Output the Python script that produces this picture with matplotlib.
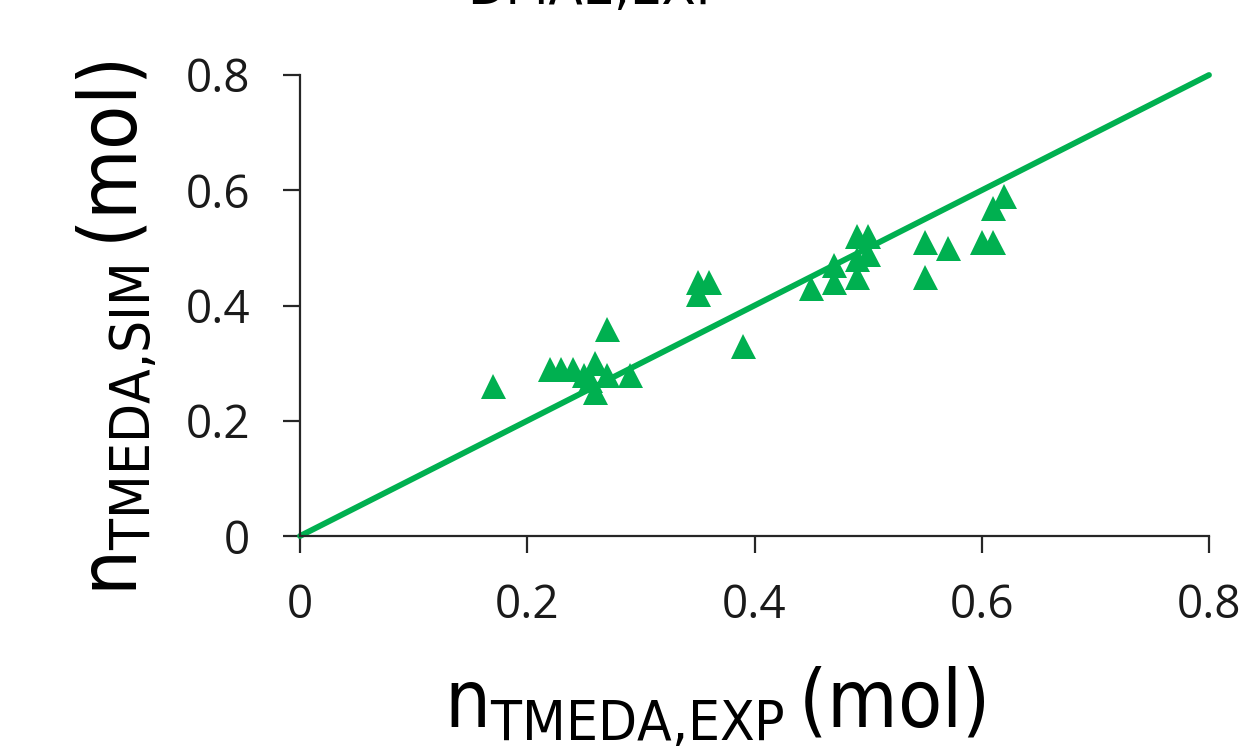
import matplotlib
matplotlib.use("Agg")
import matplotlib.pyplot as plt
from matplotlib import font_manager

# measured vs simulated amount of TMEDA
n_exp = [0.17, 0.22, 0.23, 0.24, 0.25, 0.255, 0.26, 0.26, 0.27, 0.27, 0.29,
         0.35, 0.35, 0.36, 0.39, 0.45, 0.47, 0.47, 0.49, 0.49, 0.49, 0.50,
         0.50, 0.55, 0.55, 0.57, 0.60, 0.61, 0.61, 0.62]
n_sim = [0.26, 0.29, 0.29, 0.29, 0.28, 0.27, 0.30, 0.25, 0.36, 0.28, 0.28,
         0.42, 0.44, 0.44, 0.33, 0.43, 0.44, 0.47, 0.45, 0.48, 0.52, 0.52,
         0.49, 0.51, 0.45, 0.50, 0.51, 0.51, 0.57, 0.59]
parity = [0, 0.8]
ticks = [0, 0.2, 0.4, 0.6, 0.8]
tick_labels = ['0', '0.2', '0.4', '0.6', '0.8']

green = '#00B050'
axis_col = '#262626'


def narrow_font():
    # pick a condensed face for the axis titles if one is installed
    fonts = font_manager.fontManager.ttflist
    def have(name, stretch=None):
        return any(f.name == name and (stretch is None or f.stretch == stretch)
                   for f in fonts)
    if have('Liberation Sans Narrow'):
        return 'Liberation Sans Narrow', 'normal'
    for name in ['DejaVu Sans', 'Noto Sans', 'Open Sans']:
        if have(name, 'condensed'):
            return name, 'condensed'
    return 'DejaVu Sans', 'normal'


label_family, label_stretch = narrow_font()
pattern = label_family + ':stretch=' + label_stretch

plt.rcParams['font.family'] = ['Open Sans', 'DejaVu Sans']
plt.rcParams['mathtext.fontset'] = 'custom'
plt.rcParams['mathtext.rm'] = pattern
plt.rcParams['mathtext.it'] = pattern + ':style=italic'
plt.rcParams['mathtext.bf'] = pattern + ':weight=bold'

fig = plt.figure(figsize=(12.48, 7.49), dpi=100)
ax = fig.add_axes([300 / 1248, 1 - 536 / 749, 909 / 1248, 461 / 749])

ax.plot(parity, parity, color=green, lw=4.2, solid_capstyle='round',
        clip_on=False, zorder=2)
ax.plot(n_exp, n_sim, ls='none', marker='^', ms=18, color=green,
        markeredgewidth=0, clip_on=False, zorder=3)

ax.set_xlim(0, 0.8)
ax.set_ylim(0, 0.8)
ax.set_xticks(ticks)
ax.set_xticklabels(tick_labels)
ax.set_yticks(ticks)
ax.set_yticklabels(tick_labels)

for side in ['top', 'right']:
    ax.spines[side].set_visible(False)
for side in ['left', 'bottom']:
    ax.spines[side].set_color(axis_col)
    ax.spines[side].set_linewidth(1.6)
ax.tick_params(axis='both', direction='out', length=12, width=1.6,
               color=axis_col, labelsize=33, labelcolor='#1a1a1a')
ax.tick_params(axis='y', pad=24)
ax.tick_params(axis='x', pad=22)

# axis titles with subscripts
title_kw = dict(family=label_family, stretch=label_stretch, fontsize=58)
fig.text(715 / 1248, 1 - 727 / 749, r'n$_{\mathrm{TMEDA{,}EXP}}\,$(mol)',
         ha='center', va='baseline', **title_kw)
fig.text(137 / 1248, 1 - 328 / 749, r'n$_{\mathrm{TMEDA{,}SIM}}\,$(mol)',
         ha='center', va='baseline', rotation=90, rotation_mode='anchor',
         **title_kw)

# subscript of the panel above, cut by the top edge
fig.text(597 / 1248, 1 - 4 / 749, 'DMAE,EXP', family=label_family,
         stretch=label_stretch, fontsize=40, ha='center', va='baseline')

fig.savefig('out.png', dpi=100)
